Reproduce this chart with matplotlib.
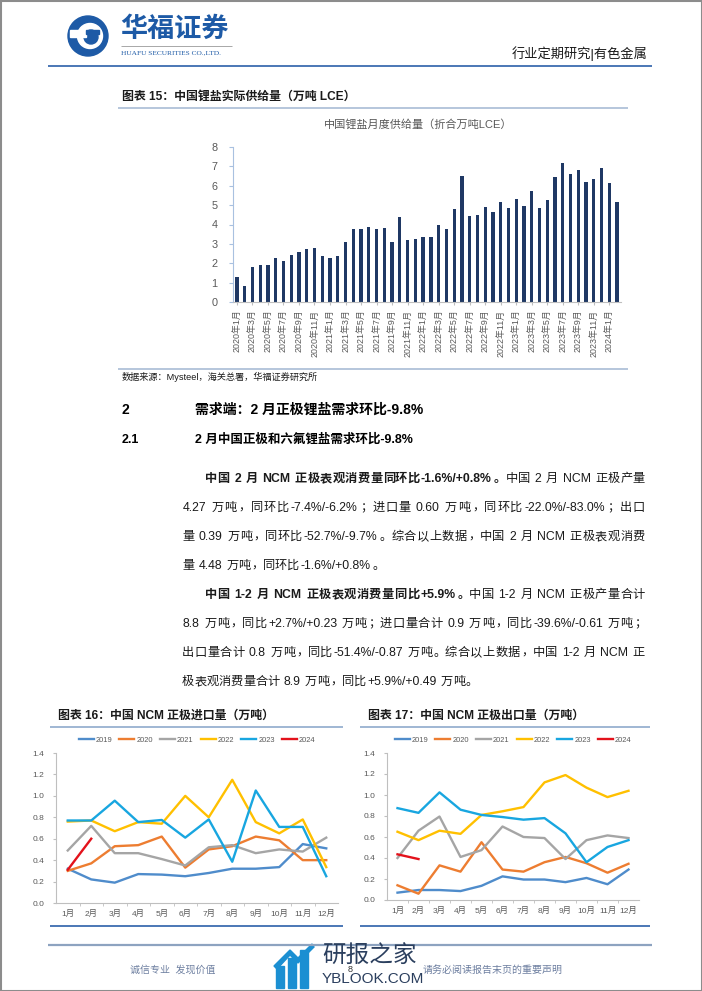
import re
import numpy as np
import matplotlib
matplotlib.use("Agg")
import matplotlib.pyplot as plt
from matplotlib.patches import Circle, Rectangle, Polygon
from matplotlib.ticker import FormatStrFormatter

plt.rcParams['font.family'] = ['Liberation Sans', 'Noto Sans CJK SC', 'DejaVu Sans']

W, H = 702, 991

# ---------------------------------------------------------------- data
supply_labels = [f"{y}年{m}月" for y in range(2020, 2025) for m in range(1, 13)][:50]
supply = [1.27, 0.85, 1.80, 1.90, 1.90, 2.27, 2.10, 2.45, 2.58, 2.73,
          2.80, 2.40, 2.28, 2.35, 3.10, 3.75, 3.78, 3.85, 3.78, 3.80,
          3.10, 4.38, 3.20, 3.25, 3.33, 3.35, 3.97, 3.77, 4.82, 6.52,
          4.43, 4.50, 4.90, 4.65, 5.17, 4.87, 5.30, 4.93, 5.72, 4.85,
          5.27, 6.47, 7.15, 6.60, 6.82, 6.17, 6.35, 6.90, 6.15, 5.17]

months = [f"{m}月" for m in range(1, 13)]
years = ["2019", "2020", "2021", "2022", "2023", "2024"]
year_colors = ["#4f8ccb", "#ed7d31", "#a5a5a5", "#ffc000", "#18a6e0", "#e3121b"]

# NCM cathode imports (10k t)
imp_2019 = [0.32, 0.22, 0.19, 0.27, 0.265, 0.25, 0.28, 0.32, 0.32, 0.335, 0.55, 0.51]
imp_2020 = [0.30, 0.37, 0.53, 0.54, 0.62, 0.33, 0.50, 0.53, 0.62, 0.585, 0.40, 0.40]
imp_2021 = [0.49, 0.72, 0.465, 0.465, 0.41, 0.35, 0.52, 0.54, 0.465, 0.50, 0.48, 0.61]
imp_2022 = [0.76, 0.77, 0.67, 0.755, 0.74, 1.00, 0.80, 1.15, 0.755, 0.65, 0.78, 0.335]
imp_2023 = [0.77, 0.77, 0.955, 0.755, 0.775, 0.61, 0.78, 0.385, 1.05, 0.71, 0.71, 0.25]
imp_2024 = [0.31, 0.60]

# NCM cathode exports (10k t)
exp_2019 = [0.07, 0.095, 0.095, 0.085, 0.135, 0.225, 0.195, 0.195, 0.17, 0.21, 0.15, 0.29]
exp_2020 = [0.14, 0.06, 0.33, 0.27, 0.55, 0.29, 0.27, 0.36, 0.41, 0.35, 0.26, 0.345]
exp_2021 = [0.40, 0.66, 0.795, 0.41, 0.475, 0.70, 0.60, 0.59, 0.39, 0.57, 0.615, 0.59]
exp_2022 = [0.65, 0.57, 0.66, 0.63, 0.81, 0.845, 0.885, 1.12, 1.19, 1.07, 0.98, 1.04]
exp_2023 = [0.875, 0.83, 1.025, 0.86, 0.81, 0.79, 0.765, 0.78, 0.635, 0.36, 0.505, 0.57]
exp_2024 = [0.435, 0.39]

imports = [imp_2019, imp_2020, imp_2021, imp_2022, imp_2023, imp_2024]
exports = [exp_2019, exp_2020, exp_2021, exp_2022, exp_2023, exp_2024]

para1 = [
    [("中国 2 月 NCM 正极表观消费量同环比-1.6%/+0.8%。", True), ("中国 2 月 NCM 正极产量", False)],
    [("4.27 万吨，同环比-7.4%/-6.2%；进口量 0.60 万吨，同环比-22.0%/-83.0%；出口", False)],
    [("量 0.39 万吨，同环比-52.7%/-9.7%。综合以上数据，中国 2 月 NCM 正极表观消费", False)],
    [("量 4.48 万吨，同环比-1.6%/+0.8%。", False)],
]
para2 = [
    [("中国 1-2 月 NCM 正极表观消费量同比+5.9%。", True), ("中国 1-2 月 NCM 正极产量合计", False)],
    [("8.8 万吨，同比+2.7%/+0.23 万吨；进口量合计 0.9 万吨，同比-39.6%/-0.61 万吨；", False)],
    [("出口量合计 0.8 万吨，同比-51.4%/-0.87 万吨。综合以上数据，中国 1-2 月 NCM 正", False)],
    [("极表观消费量合计 8.9 万吨，同比+5.9%/+0.49 万吨。", False)],
]

# ---------------------------------------------------------------- page
fig = plt.figure(figsize=(W / 100, H / 100), dpi=100)
page = fig.add_axes([0, 0, 1, 1])
page.set_xlim(0, W)
page.set_ylim(H, 0)
page.axis("off")
renderer = fig.canvas.get_renderer()


def px_axes(x0, y0, x1, y1):
    return fig.add_axes([x0 / W, 1 - y1 / H, (x1 - x0) / W, (y1 - y0) / H])


def hline(y, x0, x1, color, lw=1.0):
    page.plot([x0, x1], [y, y], color=color, lw=lw, solid_capstyle="butt")


PUNCT = "\u3000-\u303f\uff00-\uffef"
CJK = "\u4e00-\u9fff" + PUNCT
tok_re = re.compile(rf"[{CJK}]|[^\s{CJK}]+|\s+")


def measure(s, size, bold):
    t = page.text(0, 0, s, fontsize=size, fontweight="bold" if bold else "normal")
    w = t.get_window_extent(renderer).width
    t.remove()
    return w


def draw_line(segments, x0, x1, y, size=8.8, justify=True, color="#1a1a1a"):
    em = size * 100 / 72
    sp = 0.28 * em
    items = []
    pend = 0.0
    for txt, bold in segments:
        for tok in tok_re.findall(txt):
            if tok.isspace():
                pend += sp
                continue
            if re.fullmatch(rf"[{CJK}]", tok):
                kind = "punct" if re.fullmatch(rf"[{PUNCT}]", tok) else "cjk"
                w = em
            else:
                kind = "latin"
                w = measure(tok, size, bold) + 0.12 * em
            items.append([tok, bold, w, pend, kind])
            pend = 0.0
    items[0][3] = 0.0
    total = sum(i[2] + i[3] for i in items)
    extra = (x1 - x0 - total) / (len(items) - 1) if justify and len(items) > 1 else 0.0
    x = x0
    for k, (tok, bold, w, gap, kind) in enumerate(items):
        if k > 0:
            x += gap + extra
        fw = "bold" if bold else "normal"
        if kind == "cjk":
            page.text(x + w / 2, y, tok, fontsize=size, fontweight=fw, color=color,
                      va="center", ha="center")
        elif kind == "punct":
            page.text(x + 0.08 * em, y, tok, fontsize=size, fontweight=fw, color=color,
                      va="center", ha="left")
        else:
            page.text(x + 0.06 * em, y, tok, fontsize=size, fontweight=fw, color=color,
                      va="center", ha="left")
        x += w


# border
page.add_patch(Rectangle((0.5, 0.5), W - 1, H - 1, fill=False, ec="#8c8c8c", lw=1.5))

# header logo
page.add_patch(Circle((88, 36), 20, color="#1d5aa6"))
page.add_patch(Circle((90, 36), 12.5, color="white"))
page.add_patch(Circle((91, 37), 7, color="#1d5aa6"))
page.add_patch(Polygon([[70, 30], [86, 30], [86, 37], [70, 37]], color="white"))
page.add_patch(Polygon([[86, 30], [99, 30], [99, 34], [86, 34]], color="#1d5aa6"))
page.text(120, 29, "华福证券", fontsize=19.5, fontweight="bold", color="#1d5aa6",
          va="center", ha="left", family=["Noto Sans CJK SC"])
hline(46, 121, 232, "#9a9a9a", 0.6)
page.text(121, 53, "HUAFU SECURITIES CO.,LTD.", fontsize=5.3, color="#1d5aa6",
          va="center", ha="left", family=["Liberation Serif"])
page.text(648, 54, "行业定期研究|有色金属", fontsize=9.5, color="#1a1a1a",
          va="center", ha="right")
hline(66, 48, 652, "#3d6cb0", 1.3)

# ---------------------------------------------------------------- chart 15
page.text(122, 97, "图表 15：中国锂盐实际供给量（万吨 LCE）", fontsize=8.6,
          fontweight="bold", va="center", ha="left", color="#1a1a1a")
hline(108, 118, 628, "#a9bcd6", 1.2)
page.text(418, 124, "中国锂盐月度供给量（折合万吨LCE）", fontsize=8, color="#595959",
          va="center", ha="center")

ax1 = px_axes(233, 147, 621, 302)
xs = np.arange(len(supply))
ax1.bar(xs, supply, width=0.42, color="#1f3864")
ax1.set_xlim(-0.5, len(supply) - 0.5)
ax1.set_ylim(0, 8)
ax1.set_yticks(range(0, 9))
ax1.set_xticks(xs[::2])
ax1.set_xticklabels(supply_labels[::2], rotation=90, fontsize=6.4, color="#595959")
ax1.tick_params(axis="y", labelsize=7.8, labelcolor="#595959", length=3,
                color="#a9c1e0", pad=8)
ax1.tick_params(axis="x", length=2.5, color="#bfbfbf", pad=3)
for s in ("top", "right"):
    ax1.spines[s].set_visible(False)
ax1.spines["left"].set_color("#a9c1e0")
ax1.spines["bottom"].set_color("#bfbfbf")
ax1.patch.set_alpha(0)

hline(369, 118, 628, "#a9bcd6", 1.2)
page.text(122, 377, "数据来源：Mysteel，海关总署，华福证券研究所", fontsize=6.6,
          va="center", ha="left", color="#1a1a1a")

# ---------------------------------------------------------------- text
page.text(122, 410, "2", fontsize=10, fontweight="bold", va="center", ha="left")
page.text(195, 410, "需求端：2 月正极锂盐需求环比-9.8%", fontsize=10, fontweight="bold",
          va="center", ha="left")
page.text(122, 440, "2.1", fontsize=9, fontweight="bold", va="center", ha="left")
page.text(195, 440, "2 月中国正极和六氟锂盐需求环比-9.8%", fontsize=9, fontweight="bold",
          va="center", ha="left")

y = 479
for para in (para1, para2):
    for k, segs in enumerate(para):
        x0 = 205 if k == 0 else 182
        draw_line(segs, x0, 645, y, justify=(k < len(para) - 1))
        y += 29

# ---------------------------------------------------------------- chart 16 / 17


def line_chart(box, data, title, tx, line_x):
    page.text(tx, 716, title, fontsize=8.6, fontweight="bold", va="center", ha="left",
              color="#1a1a1a")
    hline(727, line_x[0], line_x[1], "#8faacc", 1.2)
    hline(926, line_x[0], line_x[1], "#3d6cb0", 1.3)
    ax = px_axes(*box)
    for yr, col, vals in zip(years, year_colors, data):
        ax.plot(range(len(vals)), vals, color=col, lw=1.7, label=yr)
    ax.set_xlim(-0.5, 11.5)
    ax.set_ylim(0, 1.4)
    ax.set_yticks(np.arange(0, 1.41, 0.2))
    ax.yaxis.set_major_formatter(FormatStrFormatter("%.1f"))
    ax.set_xticks(range(12))
    ax.set_xticklabels(months)
    ax.set_xticks(np.arange(0.5, 11.5, 1), minor=True)
    ax.tick_params(axis="x", which="major", length=0, labelsize=6, labelcolor="#595959", pad=5)
    ax.tick_params(axis="x", which="minor", length=2.5, color="#bfbfbf")
    ax.tick_params(axis="y", labelsize=6, labelcolor="#595959", length=2.5,
                   color="#bfbfbf", pad=6)
    for s in ("top", "right"):
        ax.spines[s].set_visible(False)
    ax.spines["left"].set_color("#bfbfbf")
    ax.spines["bottom"].set_color("#bfbfbf")
    ax.patch.set_alpha(0)
    ax.legend(loc="lower center", bbox_to_anchor=(0.5, 1.0), ncol=6, frameon=False,
              fontsize=5.4, handlelength=2.0, handletextpad=0.3, columnspacing=0.9,
              borderaxespad=0.8, labelcolor="#595959")
    return ax


line_chart((56, 753, 338, 903), imports, "图表 16：中国 NCM 正极进口量（万吨）", 58, (50, 343))
line_chart((387, 753, 639, 900), exports, "图表 17：中国 NCM 正极出口量（万吨）", 368, (360, 650))

# ---------------------------------------------------------------- footer
hline(945, 48, 652, "#8da3c0", 1.6)
page.text(130, 970, "诚信专业  发现价值", fontsize=7.2, color="#6d7fa0", va="center", ha="left")
page.text(423, 970, "请务必阅读报告末页的重要声明", fontsize=7.2, color="#6d7fa0",
          va="center", ha="left")
for bx, bh in ((276, 22), (288, 30), (300, 38)):
    page.add_patch(Rectangle((bx, 988 - bh), 8, bh, color="#1b8fd2"))
page.add_patch(Polygon([[274, 966], [290, 950], [298, 958], [312, 944], [314, 947],
                        [298, 963], [290, 955], [277, 969]], color="#1b8fd2"))
page.text(322, 955, "研报之家", fontsize=17, color="#2b3f5e", va="center", ha="left",
          family=["Noto Sans CJK SC"])
page.text(322, 979, "YBLOOK.COM", fontsize=11, color="#2b3f5e", va="center", ha="left")
page.text(350, 969, "8", fontsize=6.5, color="#333333", va="center", ha="center")

fig.savefig("out.png", dpi=100)
